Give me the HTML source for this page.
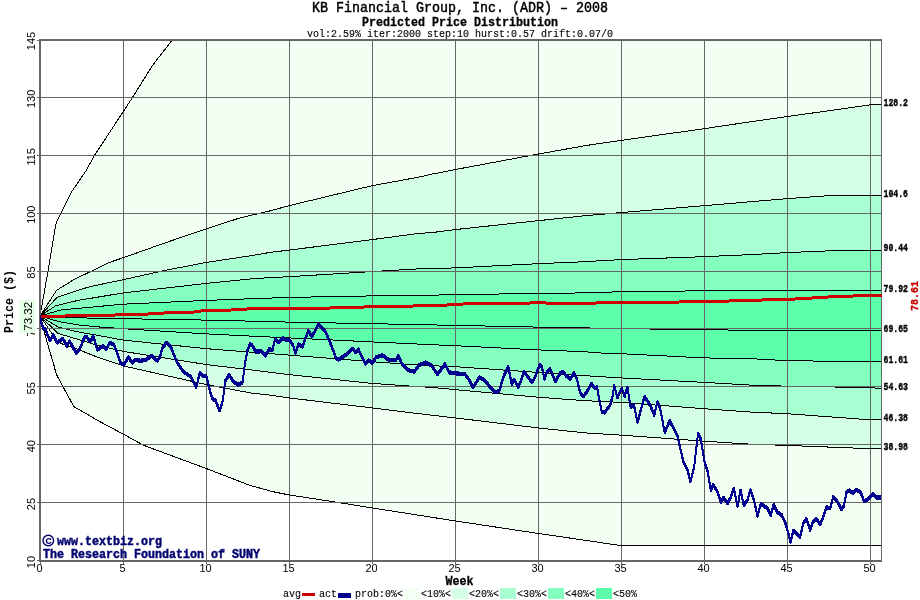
<!DOCTYPE html>
<html><head><meta charset="utf-8"><title>KB Financial Group, Inc. (ADR) - 2008</title>
<style>
html,body{margin:0;padding:0;background:#fff;}
body{width:920px;height:600px;overflow:hidden;}
svg{display:block;}
text{font-family:"Liberation Mono",monospace;}
.s{font-family:"Liberation Sans",sans-serif;}
</style></head><body>
<svg width="920" height="600" viewBox="0 0 920 600">
<rect width="920" height="600" fill="#fff"/>
<defs><clipPath id="c"><rect x="40" y="40" width="842" height="521"/></clipPath></defs>
<g clip-path="url(#c)" shape-rendering="crispEdges">
<polygon points="40.0,316.0 48.0,271.4 51.5,250.4 56.2,222.4 72.5,190.4 79.5,180.4 86.2,170.4 94.5,155.4 123.2,111.7 132.5,97.4 152.5,65.4 172.0,40.4 180.0,29.0 883.0,29.0 882.0,545.3 619.0,545.3 560.0,536.6 538.0,533.4 455.0,520.9 372.0,507.9 330.0,501.2 289.0,494.9 272.5,491.6 250.0,485.4 206.5,468.6 143.8,445.4 123.2,434.1 100.0,421.7 73.8,406.6 56.2,374.1 54.0,365.4 48.0,345.4 40.0,316.2" fill="#f4fff4"/>
<polygon points="40.0,316.0 56.5,290.4 75.0,278.9 91.0,271.4 108.0,262.9 123.3,257.7 165.0,242.9 206.5,228.7 240.0,217.9 270.0,210.9 289.0,205.7 372.0,185.7 419.0,177.1 432.0,174.1 455.0,169.6 538.0,154.1 585.0,145.7 598.0,143.7 621.0,140.4 704.0,128.7 751.0,121.7 787.0,116.6 870.0,104.9 882.0,104.9 882.0,448.9 870.0,448.7 787.0,445.4 751.0,444.2 704.0,441.2 621.0,435.1 585.0,432.9 538.0,427.9 455.0,417.9 419.0,413.7 372.0,407.9 289.0,397.9 266.0,394.6 253.0,393.4 206.5,384.6 123.3,365.9 98.0,357.4 78.0,349.4 58.0,342.4 40.0,316.0" fill="#d4ffe6"/>
<polygon points="40.0,316.0 57.0,297.4 78.0,290.4 90.0,286.6 123.3,279.7 165.0,270.4 206.5,262.4 253.0,255.4 270.0,252.4 289.0,250.1 372.0,239.6 419.0,233.4 432.0,232.6 455.0,229.6 538.0,220.7 585.0,215.7 598.0,214.6 621.0,212.6 704.0,205.7 751.0,201.7 787.0,198.7 828.0,195.7 882.0,195.7 882.0,419.8 870.0,419.8 787.0,413.7 751.0,412.1 704.0,408.7 621.0,402.4 585.0,400.7 538.0,397.2 455.0,389.6 432.0,387.4 419.0,386.7 372.0,383.4 289.0,374.6 266.0,371.7 253.0,370.1 206.5,364.6 123.3,351.4 98.0,345.4 78.0,339.4 58.0,333.4 40.0,316.0" fill="#a8ffd2"/>
<polygon points="40.0,316.0 55.5,305.9 78.0,300.4 123.3,292.9 206.5,283.4 253.0,278.7 266.0,277.9 289.0,276.7 372.0,271.6 419.0,268.8 455.0,267.9 538.0,263.7 585.0,261.7 598.0,260.9 621.0,259.6 704.0,256.7 751.0,254.6 787.0,252.6 828.0,250.9 882.0,250.9 882.0,388.6 870.0,387.6 787.0,386.2 751.0,385.1 704.0,382.4 621.0,377.9 585.0,375.7 538.0,372.4 455.0,366.7 419.0,365.1 372.0,361.7 289.0,355.1 266.0,353.3 206.5,348.7 123.3,340.1 98.0,335.4 78.0,331.9 58.0,326.9 40.0,316.0" fill="#84ffc0"/>
<polygon points="40.0,316.0 61.0,309.9 123.3,304.2 206.5,300.4 253.0,298.7 289.0,297.4 372.0,295.9 419.0,295.4 455.0,294.7 538.0,293.4 585.0,292.9 621.0,291.7 704.0,290.8 882.0,290.9 882.0,361.7 870.0,361.7 787.0,360.7 751.0,358.7 704.0,357.9 621.0,353.7 598.0,352.9 585.0,351.7 538.0,349.9 455.0,345.7 419.0,344.1 372.0,341.9 289.0,337.9 253.0,336.2 206.5,333.9 123.3,328.7 98.0,326.9 78.0,324.9 58.0,321.4 40.0,316.0" fill="#5cffaa"/>
</g>
<g fill="#666666" shape-rendering="crispEdges">
<rect x="123" y="40" width="1" height="524"/>
<rect x="206" y="40" width="1" height="524"/>
<rect x="289" y="40" width="1" height="524"/>
<rect x="372" y="40" width="1" height="524"/>
<rect x="455" y="40" width="1" height="524"/>
<rect x="538" y="40" width="1" height="524"/>
<rect x="621" y="40" width="1" height="524"/>
<rect x="704" y="40" width="1" height="524"/>
<rect x="787" y="40" width="1" height="524"/>
<rect x="870" y="40" width="1" height="524"/>
</g>
<g clip-path="url(#c)" shape-rendering="crispEdges">
<polyline points="40.0,316.0 48.0,271.4 51.5,250.4 56.2,222.4 72.5,190.4 79.5,180.4 86.2,170.4 94.5,155.4 123.2,111.7 132.5,97.4 152.5,65.4 172.0,40.4 180.0,29.0" fill="none" stroke="#000" stroke-width="1"/>
<polyline points="40.0,316.0 56.5,290.4 75.0,278.9 91.0,271.4 108.0,262.9 123.3,257.7 165.0,242.9 206.5,228.7 240.0,217.9 270.0,210.9 289.0,205.7 372.0,185.7 419.0,177.1 432.0,174.1 455.0,169.6 538.0,154.1 585.0,145.7 598.0,143.7 621.0,140.4 704.0,128.7 751.0,121.7 787.0,116.6 870.0,104.9 882.0,104.9" fill="none" stroke="#000" stroke-width="1"/>
<polyline points="40.0,316.0 57.0,297.4 78.0,290.4 90.0,286.6 123.3,279.7 165.0,270.4 206.5,262.4 253.0,255.4 270.0,252.4 289.0,250.1 372.0,239.6 419.0,233.4 432.0,232.6 455.0,229.6 538.0,220.7 585.0,215.7 598.0,214.6 621.0,212.6 704.0,205.7 751.0,201.7 787.0,198.7 828.0,195.7 882.0,195.7" fill="none" stroke="#000" stroke-width="1"/>
<polyline points="40.0,316.0 55.5,305.9 78.0,300.4 123.3,292.9 206.5,283.4 253.0,278.7 266.0,277.9 289.0,276.7 372.0,271.6 419.0,268.8 455.0,267.9 538.0,263.7 585.0,261.7 598.0,260.9 621.0,259.6 704.0,256.7 751.0,254.6 787.0,252.6 828.0,250.9 882.0,250.9" fill="none" stroke="#000" stroke-width="1"/>
<polyline points="40.0,316.0 61.0,309.9 123.3,304.2 206.5,300.4 253.0,298.7 289.0,297.4 372.0,295.9 419.0,295.4 455.0,294.7 538.0,293.4 585.0,292.9 621.0,291.7 704.0,290.8 882.0,290.9" fill="none" stroke="#000" stroke-width="1"/>
<polyline points="40.0,316.0 81.0,317.9 123.3,318.7 206.5,320.1 253.0,321.2 289.0,322.1 372.0,323.7 419.0,324.6 455.0,325.4 538.0,327.1 585.0,327.9 621.0,328.7 704.0,329.6 751.0,330.4 882.0,330.7" fill="none" stroke="#000" stroke-width="1"/>
<polyline points="40.0,316.0 58.0,321.4 78.0,324.9 98.0,326.9 123.3,328.7 206.5,333.9 253.0,336.2 289.0,337.9 372.0,341.9 419.0,344.1 455.0,345.7 538.0,349.9 585.0,351.7 598.0,352.9 621.0,353.7 704.0,357.9 751.0,358.7 787.0,360.7 870.0,361.7 882.0,361.7" fill="none" stroke="#000" stroke-width="1"/>
<polyline points="40.0,316.0 58.0,326.9 78.0,331.9 98.0,335.4 123.3,340.1 206.5,348.7 266.0,353.3 289.0,355.1 372.0,361.7 419.0,365.1 455.0,366.7 538.0,372.4 585.0,375.7 621.0,377.9 704.0,382.4 751.0,385.1 787.0,386.2 870.0,387.6 882.0,388.6" fill="none" stroke="#000" stroke-width="1"/>
<polyline points="40.0,316.0 58.0,333.4 78.0,339.4 98.0,345.4 123.3,351.4 206.5,364.6 253.0,370.1 266.0,371.7 289.0,374.6 372.0,383.4 419.0,386.7 432.0,387.4 455.0,389.6 538.0,397.2 585.0,400.7 621.0,402.4 704.0,408.7 751.0,412.1 787.0,413.7 870.0,419.8 882.0,419.8" fill="none" stroke="#000" stroke-width="1"/>
<polyline points="40.0,316.0 58.0,342.4 78.0,349.4 98.0,357.4 123.3,365.9 206.5,384.6 253.0,393.4 266.0,394.6 289.0,397.9 372.0,407.9 419.0,413.7 455.0,417.9 538.0,427.9 585.0,432.9 621.0,435.1 704.0,441.2 751.0,444.2 787.0,445.4 870.0,448.7 882.0,448.9" fill="none" stroke="#000" stroke-width="1"/>
<polyline points="40.0,316.2 48.0,345.4 54.0,365.4 56.2,374.1 73.8,406.6 100.0,421.7 123.2,434.1 143.8,445.4 206.5,468.6 250.0,485.4 272.5,491.6 289.0,494.9 330.0,501.2 372.0,507.9 455.0,520.9 538.0,533.4 560.0,536.6 619.0,545.3 882.0,545.3" fill="none" stroke="#000" stroke-width="1"/>
</g>
<g fill="#666666" shape-rendering="crispEdges">
<rect x="37" y="502" width="845" height="1"/>
<rect x="37" y="444" width="845" height="1"/>
<rect x="37" y="386" width="845" height="1"/>
<rect x="37" y="328" width="845" height="1"/>
<rect x="37" y="271" width="845" height="1"/>
<rect x="37" y="213" width="845" height="1"/>
<rect x="37" y="155" width="845" height="1"/>
<rect x="37" y="97" width="845" height="1"/>
</g>
<g fill="#666666" shape-rendering="crispEdges">
<rect x="39" y="39" width="2" height="523"/>
<rect x="39" y="39" width="843" height="2"/>
<rect x="37" y="40" width="2" height="1"/>
<rect x="39" y="560" width="843" height="2"/>
<rect x="37" y="560" width="2" height="1"/>
<rect x="881" y="39" width="1" height="523"/>
<rect x="40" y="562" width="1" height="2"/>
</g>
<g clip-path="url(#c)" shape-rendering="crispEdges" fill="none">
<rect x="41" y="315" width="24" height="3" fill="#cc0000"/>
<rect x="65" y="314" width="50" height="3" fill="#cc0000"/>
<rect x="115" y="313" width="33" height="3" fill="#cc0000"/>
<rect x="148" y="312" width="16" height="3" fill="#cc0000"/>
<rect x="164" y="311" width="30" height="3" fill="#cc0000"/>
<rect x="194" y="310" width="7" height="3" fill="#cc0000"/>
<rect x="201" y="309" width="30" height="3" fill="#cc0000"/>
<rect x="231" y="308" width="16" height="3" fill="#cc0000"/>
<rect x="247" y="307" width="83" height="3" fill="#cc0000"/>
<rect x="330" y="306" width="34" height="3" fill="#cc0000"/>
<rect x="364" y="305" width="49" height="3" fill="#cc0000"/>
<rect x="413" y="304" width="34" height="3" fill="#cc0000"/>
<rect x="447" y="303" width="16" height="3" fill="#cc0000"/>
<rect x="463" y="302" width="67" height="3" fill="#cc0000"/>
<rect x="530" y="301" width="16" height="3" fill="#cc0000"/>
<rect x="546" y="302" width="50" height="3" fill="#cc0000"/>
<rect x="596" y="301" width="83" height="3" fill="#cc0000"/>
<rect x="679" y="300" width="50" height="3" fill="#cc0000"/>
<rect x="729" y="299" width="33" height="3" fill="#cc0000"/>
<rect x="762" y="298" width="33" height="3" fill="#cc0000"/>
<rect x="795" y="297" width="17" height="3" fill="#cc0000"/>
<rect x="812" y="296" width="16" height="3" fill="#cc0000"/>
<rect x="828" y="295" width="25" height="3" fill="#cc0000"/>
<rect x="853" y="294" width="29" height="3" fill="#cc0000"/>
<polyline points="40.0,314.7 41.3,320.7 43.4,327.2 45.6,328.3 48.9,337.0 50.0,339.1 53.2,333.7 57.0,341.3 63.0,337.5 66.8,344.6 69.5,339.7 76.0,351.7 79.3,348.9 84.7,335.3 86.9,335.9 90.2,340.2 93.4,334.8 97.2,348.4 103.2,344.6 106.5,347.8 109.7,341.3 114.1,343.5 117.3,352.2 120.6,362.0 123.9,363.6 128.2,356.0 132.6,361.4 135.8,358.4 140.0,359.5 145.8,358.7 151.7,354.5 157.5,359.5 160.0,355.4 162.5,346.2 166.7,341.2 170.8,345.4 176.7,360.4 183.3,370.4 190.8,375.4 196.3,386.2 199.7,371.7 202.5,374.5 206.4,375.2 207.5,379.2 209.4,387.5 212.0,396.8 215.8,399.5 219.5,409.6 222.5,401.0 224.0,390.5 225.1,380.0 229.2,373.2 233.3,380.4 238.3,383.4 242.5,381.2 245.0,362.0 247.5,348.7 250.0,342.9 252.5,344.5 255.8,350.4 260.8,350.0 265.3,354.5 269.2,347.9 272.5,348.7 275.0,337.9 279.2,341.2 282.5,336.7 285.8,338.7 289.5,338.7 293.3,344.5 295.5,352.0 298.3,342.9 302.5,345.4 308.3,329.5 312.0,335.4 318.3,322.9 325.0,329.5 330.8,342.9 335.8,356.2 338.3,358.4 346.7,352.9 352.5,347.4 355.8,351.2 358.3,347.9 362.5,357.0 365.3,362.4 368.7,359.0 372.5,361.7 375.8,356.2 381.7,354.0 383.3,354.5 389.2,359.0 395.8,359.0 398.3,354.5 402.5,363.7 407.5,368.7 414.2,370.4 419.2,363.7 425.8,361.2 431.7,364.5 437.5,372.9 445.0,362.9 449.2,371.2 455.5,372.0 465.0,372.9 469.2,378.7 473.0,386.2 479.2,376.2 484.2,378.7 490.0,385.4 495.8,391.2 499.2,389.5 504.2,373.7 508.3,365.4 511.7,382.9 514.2,377.9 518.3,386.2 524.2,370.4 532.0,381.2 535.3,375.4 539.5,363.7 542.0,366.2 544.5,377.9 547.0,370.4 550.3,367.9 555.3,380.4 560.0,372.1 562.7,370.4 566.5,374.8 570.3,377.5 574.1,371.5 576.8,377.5 580.1,391.1 583.4,395.4 587.2,390.0 591.5,382.4 594.8,387.3 597.0,385.7 598.6,394.4 601.8,410.7 604.6,411.2 610.0,404.1 612.2,396.5 614.3,384.6 617.4,396.5 621.6,387.3 624.7,394.9 627.4,385.7 630.7,406.3 633.9,403.6 637.5,421.2 644.5,395.2 650.0,403.7 654.2,413.7 657.5,400.4 660.3,407.9 664.7,431.2 669.7,419.5 677.5,434.5 683.3,460.4 687.5,468.7 690.5,480.4 694.2,465.4 698.0,432.4 700.8,437.9 704.5,460.4 707.5,469.2 710.8,488.7 713.3,483.7 717.5,490.4 720.8,501.2 723.3,496.2 727.5,502.0 730.8,496.2 733.8,487.0 737.5,505.4 740.5,488.7 743.7,504.0 747.5,498.7 750.5,488.4 754.2,499.5 757.5,515.0 760.8,502.4 767.5,507.0 770.8,513.7 773.7,503.4 777.5,511.2 781.7,513.7 785.8,522.9 788.3,532.0 790.5,541.2 793.3,529.5 800.0,536.2 803.3,522.0 806.3,517.4 810.3,528.7 812.5,521.2 815.8,517.4 820.3,522.9 823.3,515.7 826.3,506.0 830.3,507.1 833.2,495.5 837.0,499.7 841.5,508.0 844.0,504.2 846.4,491.2 849.3,489.2 853.2,491.7 856.4,488.3 860.8,491.3 864.0,499.5 866.7,498.9 873.3,492.9 876.5,496.2 881.0,496.2" stroke="#00008e" stroke-width="1.7" stroke-linejoin="bevel"/>
<polyline points="40.0,316.0 41.3,322.0 43.4,328.5 45.6,329.6 48.9,338.3 50.0,340.4 53.2,335.0 57.0,342.6 63.0,338.8 66.8,345.9 69.5,341.0 76.0,353.0 79.3,350.2 84.7,336.6 86.9,337.2 90.2,341.5 93.4,336.1 97.2,349.7 103.2,345.9 106.5,349.1 109.7,342.6 114.1,344.8 117.3,353.5 120.6,363.3 123.9,364.9 128.2,357.3 132.6,362.7 135.8,359.7 140.0,360.8 145.8,360.0 151.7,355.8 157.5,360.8 160.0,356.7 162.5,347.5 166.7,342.5 170.8,346.7 176.7,361.7 183.3,371.7 190.8,376.7 196.3,387.5 199.7,373.0 202.5,375.8 206.4,376.5 207.5,380.5 209.4,388.8 212.0,398.1 215.8,400.8 219.5,410.9 222.5,402.3 224.0,391.8 225.1,381.3 229.2,374.5 233.3,381.7 238.3,384.7 242.5,382.5 245.0,363.3 247.5,350.0 250.0,344.2 252.5,345.8 255.8,351.7 260.8,351.3 265.3,355.8 269.2,349.2 272.5,350.0 275.0,339.2 279.2,342.5 282.5,338.0 285.8,340.0 289.5,340.0 293.3,345.8 295.5,353.3 298.3,344.2 302.5,346.7 308.3,330.8 312.0,336.7 318.3,324.2 325.0,330.8 330.8,344.2 335.8,357.5 338.3,359.7 346.7,354.2 352.5,348.7 355.8,352.5 358.3,349.2 362.5,358.3 365.3,363.7 368.7,360.3 372.5,363.0 375.8,357.5 381.7,355.3 383.3,355.8 389.2,360.3 395.8,360.3 398.3,355.8 402.5,365.0 407.5,370.0 414.2,371.7 419.2,365.0 425.8,362.5 431.7,365.8 437.5,374.2 445.0,364.2 449.2,372.5 455.5,373.3 465.0,374.2 469.2,380.0 473.0,387.5 479.2,377.5 484.2,380.0 490.0,386.7 495.8,392.5 499.2,390.8 504.2,375.0 508.3,366.7 511.7,384.2 514.2,379.2 518.3,387.5 524.2,371.7 532.0,382.5 535.3,376.7 539.5,365.0 542.0,367.5 544.5,379.2 547.0,371.7 550.3,369.2 555.3,381.7 560.0,373.4 562.7,371.7 566.5,376.1 570.3,378.8 574.1,372.8 576.8,378.8 580.1,392.4 583.4,396.7 587.2,391.3 591.5,383.7 594.8,388.6 597.0,387.0 598.6,395.7 601.8,412.0 604.6,412.5 610.0,405.4 612.2,397.8 614.3,385.9 617.4,397.8 621.6,388.6 624.7,396.2 627.4,387.0 630.7,407.6 633.9,404.9 637.5,422.5 644.5,396.5 650.0,405.0 654.2,415.0 657.5,401.7 660.3,409.2 664.7,432.5 669.7,420.8 677.5,435.8 683.3,461.7 687.5,470.0 690.5,481.7 694.2,466.7 698.0,433.7 700.8,439.2 704.5,461.7 707.5,470.5 710.8,490.0 713.3,485.0 717.5,491.7 720.8,502.5 723.3,497.5 727.5,503.3 730.8,497.5 733.8,488.3 737.5,506.7 740.5,490.0 743.7,505.3 747.5,500.0 750.5,489.7 754.2,500.8 757.5,516.3 760.8,503.7 767.5,508.3 770.8,515.0 773.7,504.7 777.5,512.5 781.7,515.0 785.8,524.2 788.3,533.3 790.5,542.5 793.3,530.8 800.0,537.5 803.3,523.3 806.3,518.7 810.3,530.0 812.5,522.5 815.8,518.7 820.3,524.2 823.3,517.0 826.3,507.3 830.3,508.4 833.2,496.8 837.0,501.0 841.5,509.3 844.0,505.5 846.4,492.5 849.3,490.5 853.2,493.0 856.4,489.6 860.8,492.6 864.0,500.8 866.7,500.2 873.3,494.2 876.5,497.5 881.0,497.5" stroke="#00008e" stroke-width="1.7" stroke-linejoin="bevel"/>
<polyline points="40.0,317.3 41.3,323.3 43.4,329.8 45.6,330.9 48.9,339.6 50.0,341.7 53.2,336.3 57.0,343.9 63.0,340.1 66.8,347.2 69.5,342.3 76.0,354.3 79.3,351.5 84.7,337.9 86.9,338.5 90.2,342.8 93.4,337.4 97.2,351.0 103.2,347.2 106.5,350.4 109.7,343.9 114.1,346.1 117.3,354.8 120.6,364.6 123.9,366.2 128.2,358.6 132.6,364.0 135.8,361.0 140.0,362.1 145.8,361.3 151.7,357.1 157.5,362.1 160.0,358.0 162.5,348.8 166.7,343.8 170.8,348.0 176.7,363.0 183.3,373.0 190.8,378.0 196.3,388.8 199.7,374.3 202.5,377.1 206.4,377.8 207.5,381.8 209.4,390.1 212.0,399.4 215.8,402.1 219.5,412.2 222.5,403.6 224.0,393.1 225.1,382.6 229.2,375.8 233.3,383.0 238.3,386.0 242.5,383.8 245.0,364.6 247.5,351.3 250.0,345.5 252.5,347.1 255.8,353.0 260.8,352.6 265.3,357.1 269.2,350.5 272.5,351.3 275.0,340.5 279.2,343.8 282.5,339.3 285.8,341.3 289.5,341.3 293.3,347.1 295.5,354.6 298.3,345.5 302.5,348.0 308.3,332.1 312.0,338.0 318.3,325.5 325.0,332.1 330.8,345.5 335.8,358.8 338.3,361.0 346.7,355.5 352.5,350.0 355.8,353.8 358.3,350.5 362.5,359.6 365.3,365.0 368.7,361.6 372.5,364.3 375.8,358.8 381.7,356.6 383.3,357.1 389.2,361.6 395.8,361.6 398.3,357.1 402.5,366.3 407.5,371.3 414.2,373.0 419.2,366.3 425.8,363.8 431.7,367.1 437.5,375.5 445.0,365.5 449.2,373.8 455.5,374.6 465.0,375.5 469.2,381.3 473.0,388.8 479.2,378.8 484.2,381.3 490.0,388.0 495.8,393.8 499.2,392.1 504.2,376.3 508.3,368.0 511.7,385.5 514.2,380.5 518.3,388.8 524.2,373.0 532.0,383.8 535.3,378.0 539.5,366.3 542.0,368.8 544.5,380.5 547.0,373.0 550.3,370.5 555.3,383.0 560.0,374.7 562.7,373.0 566.5,377.4 570.3,380.1 574.1,374.1 576.8,380.1 580.1,393.7 583.4,398.0 587.2,392.6 591.5,385.0 594.8,389.9 597.0,388.3 598.6,397.0 601.8,413.3 604.6,413.8 610.0,406.7 612.2,399.1 614.3,387.2 617.4,399.1 621.6,389.9 624.7,397.5 627.4,388.3 630.7,408.9 633.9,406.2 637.5,423.8 644.5,397.8 650.0,406.3 654.2,416.3 657.5,403.0 660.3,410.5 664.7,433.8 669.7,422.1 677.5,437.1 683.3,463.0 687.5,471.3 690.5,483.0 694.2,468.0 698.0,435.0 700.8,440.5 704.5,463.0 707.5,471.8 710.8,491.3 713.3,486.3 717.5,493.0 720.8,503.8 723.3,498.8 727.5,504.6 730.8,498.8 733.8,489.6 737.5,508.0 740.5,491.3 743.7,506.6 747.5,501.3 750.5,491.0 754.2,502.1 757.5,517.6 760.8,505.0 767.5,509.6 770.8,516.3 773.7,506.0 777.5,513.8 781.7,516.3 785.8,525.5 788.3,534.6 790.5,543.8 793.3,532.1 800.0,538.8 803.3,524.6 806.3,520.0 810.3,531.3 812.5,523.8 815.8,520.0 820.3,525.5 823.3,518.3 826.3,508.6 830.3,509.7 833.2,498.1 837.0,502.3 841.5,510.6 844.0,506.8 846.4,493.8 849.3,491.8 853.2,494.3 856.4,490.9 860.8,493.9 864.0,502.1 866.7,501.5 873.3,495.5 876.5,498.8 881.0,498.8" stroke="#00008e" stroke-width="1.7" stroke-linejoin="bevel"/>
</g>
<g opacity="0.999">
<text x="312.0" y="11.5" font-size="15" textLength="296" lengthAdjust="spacingAndGlyphs" fill="#000" stroke="#000" stroke-width="0.5">KB Financial Group, Inc. (ADR) – 2008</text>
<text x="362.0" y="25.7" font-size="12" textLength="196" lengthAdjust="spacingAndGlyphs" fill="#000" font-weight="bold" stroke="#000" stroke-width="0.3">Predicted Price Distribution</text>
<text x="307.0" y="37" font-size="11" textLength="306" lengthAdjust="spacingAndGlyphs" fill="#000" stroke="#000" stroke-width="0.15">vol:2.59% iter:2000 step:10 hurst:0.57 drift:0.07/0</text>
<text class="s" x="39.5" y="571.8" font-size="11" text-anchor="middle">0</text>
<text class="s" x="122.5" y="571.8" font-size="11" text-anchor="middle">5</text>
<text class="s" x="205.5" y="571.8" font-size="11" text-anchor="middle">10</text>
<text class="s" x="288.5" y="571.8" font-size="11" text-anchor="middle">15</text>
<text class="s" x="371.5" y="571.8" font-size="11" text-anchor="middle">20</text>
<text class="s" x="454.5" y="571.8" font-size="11" text-anchor="middle">25</text>
<text class="s" x="537.5" y="571.8" font-size="11" text-anchor="middle">30</text>
<text class="s" x="620.5" y="571.8" font-size="11" text-anchor="middle">35</text>
<text class="s" x="703.5" y="571.8" font-size="11" text-anchor="middle">40</text>
<text class="s" x="786.5" y="571.8" font-size="11" text-anchor="middle">45</text>
<text class="s" x="869.5" y="571.8" font-size="11" text-anchor="middle">50</text>
<text class="s" transform="translate(35.3,562.0) rotate(-90)" font-size="11" text-anchor="middle">10</text>
<text class="s" transform="translate(35.3,504.1) rotate(-90)" font-size="11" text-anchor="middle">25</text>
<text class="s" transform="translate(35.3,446.2) rotate(-90)" font-size="11" text-anchor="middle">40</text>
<text class="s" transform="translate(35.3,388.3) rotate(-90)" font-size="11" text-anchor="middle">55</text>
<text class="s" transform="translate(35.3,330.4) rotate(-90)" font-size="11" text-anchor="middle">70</text>
<text class="s" transform="translate(35.3,272.5) rotate(-90)" font-size="11" text-anchor="middle">85</text>
<text class="s" transform="translate(35.3,214.7) rotate(-90)" font-size="11" text-anchor="middle">100</text>
<text class="s" transform="translate(35.3,156.8) rotate(-90)" font-size="11" text-anchor="middle">115</text>
<text class="s" transform="translate(35.3,98.9) rotate(-90)" font-size="11" text-anchor="middle">130</text>
<text class="s" transform="translate(35.3,41.0) rotate(-90)" font-size="11" text-anchor="middle">145</text>
<text transform="translate(13,301.5) rotate(-90)" font-size="12.5" font-weight="bold" text-anchor="middle" textLength="63" lengthAdjust="spacingAndGlyphs">Price ($)</text>
<rect x="19" y="300" width="16" height="33" fill="#e6ffe6" shape-rendering="crispEdges"/>
<text class="s" transform="translate(31.6,316.3) rotate(-90)" font-size="11.5" text-anchor="middle">73.32</text>
<text x="445.5" y="585" font-size="12" textLength="28" lengthAdjust="spacingAndGlyphs" fill="#000" font-weight="bold" stroke="#000" stroke-width="0.3">Week</text>
<text x="283" y="597.3" font-size="11.2" textLength="18" lengthAdjust="spacingAndGlyphs" stroke="#000" stroke-width="0.12">avg</text>
<rect x="302" y="593" width="13" height="3" fill="#cc0000" shape-rendering="crispEdges"/>
<text x="319" y="597.3" font-size="11.2" textLength="18" lengthAdjust="spacingAndGlyphs" stroke="#000" stroke-width="0.12">act</text>
<rect x="338" y="593" width="13" height="5" fill="#00008e" shape-rendering="crispEdges"/>
<text x="355" y="597.3" font-size="11.2" textLength="48" lengthAdjust="spacingAndGlyphs" stroke="#000" stroke-width="0.12">prob:0%&lt;</text>
<rect x="404" y="588" width="16" height="11" fill="#f4fff4" shape-rendering="crispEdges"/>
<text x="421" y="597.3" font-size="11.2" textLength="30" lengthAdjust="spacingAndGlyphs" stroke="#000" stroke-width="0.12">&lt;10%&lt;</text>
<rect x="452" y="588" width="16" height="11" fill="#d4ffe6" shape-rendering="crispEdges"/>
<text x="469" y="597.3" font-size="11.2" textLength="30" lengthAdjust="spacingAndGlyphs" stroke="#000" stroke-width="0.12">&lt;20%&lt;</text>
<rect x="500" y="588" width="16" height="11" fill="#a8ffd2" shape-rendering="crispEdges"/>
<text x="517" y="597.3" font-size="11.2" textLength="30" lengthAdjust="spacingAndGlyphs" stroke="#000" stroke-width="0.12">&lt;30%&lt;</text>
<rect x="548" y="588" width="16" height="11" fill="#84ffc0" shape-rendering="crispEdges"/>
<text x="565" y="597.3" font-size="11.2" textLength="30" lengthAdjust="spacingAndGlyphs" stroke="#000" stroke-width="0.12">&lt;40%&lt;</text>
<rect x="596" y="588" width="16" height="11" fill="#5cffaa" shape-rendering="crispEdges"/>
<text x="613" y="597.3" font-size="11.2" textLength="24" lengthAdjust="spacingAndGlyphs" stroke="#000" stroke-width="0.12">&lt;50%</text>
<text x="883.5" y="105.6" font-size="10.5" font-weight="bold" textLength="24.5" lengthAdjust="spacingAndGlyphs" stroke="#000" stroke-width="0.4">128.2</text>
<text x="883.5" y="196.7" font-size="10.5" font-weight="bold" textLength="24.5" lengthAdjust="spacingAndGlyphs" stroke="#000" stroke-width="0.4">104.6</text>
<text x="883.5" y="251.3" font-size="10.5" font-weight="bold" textLength="24.5" lengthAdjust="spacingAndGlyphs" stroke="#000" stroke-width="0.4">90.44</text>
<text x="883.5" y="291.9" font-size="10.5" font-weight="bold" textLength="24.5" lengthAdjust="spacingAndGlyphs" stroke="#000" stroke-width="0.4">79.92</text>
<text x="883.5" y="331.6" font-size="10.5" font-weight="bold" textLength="24.5" lengthAdjust="spacingAndGlyphs" stroke="#000" stroke-width="0.4">69.65</text>
<text x="883.5" y="362.6" font-size="10.5" font-weight="bold" textLength="24.5" lengthAdjust="spacingAndGlyphs" stroke="#000" stroke-width="0.4">61.61</text>
<text x="883.5" y="389.5" font-size="10.5" font-weight="bold" textLength="24.5" lengthAdjust="spacingAndGlyphs" stroke="#000" stroke-width="0.4">54.63</text>
<text x="883.5" y="421.4" font-size="10.5" font-weight="bold" textLength="24.5" lengthAdjust="spacingAndGlyphs" stroke="#000" stroke-width="0.4">46.38</text>
<text x="883.5" y="449.9" font-size="10.5" font-weight="bold" textLength="24.5" lengthAdjust="spacingAndGlyphs" stroke="#000" stroke-width="0.4">38.98</text>
<text transform="translate(918,296) rotate(-90)" font-size="11.5" font-weight="bold" fill="#cc0000" stroke="#cc0000" stroke-width="0.35" text-anchor="middle" textLength="30" lengthAdjust="spacingAndGlyphs">78.61</text>
<g fill="#000070" font-weight="bold" stroke="#000070" stroke-width="0.45">
<circle cx="48.3" cy="540.5" r="5.3" fill="none" stroke="#000070" stroke-width="1.4"/>
<text x="45.4" y="544" font-size="8.5" class="s" stroke-width="0.2">C</text>
<text x="57" y="545.2" font-size="12.5" textLength="105" lengthAdjust="spacingAndGlyphs">www.textbiz.org</text>
<text x="43" y="558" font-size="12.5" textLength="217" lengthAdjust="spacingAndGlyphs">The Research Foundation of SUNY</text>
</g>
</g>
</svg></body></html>
